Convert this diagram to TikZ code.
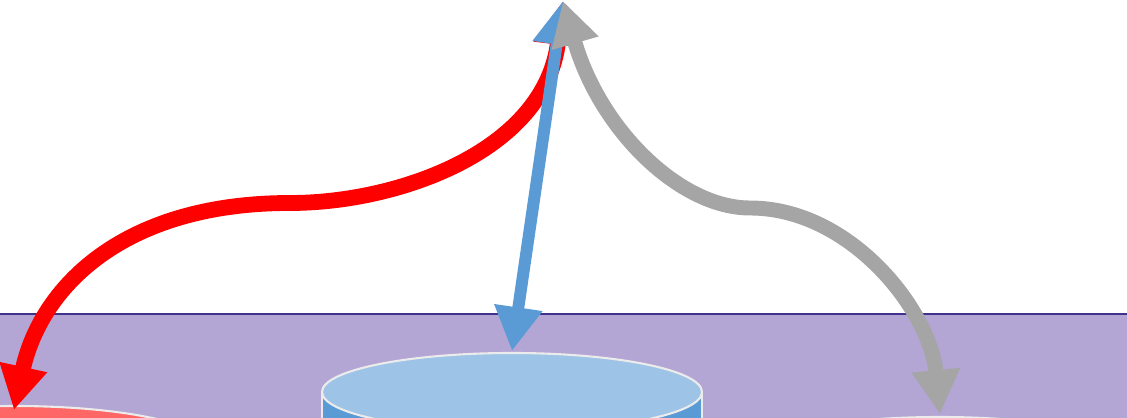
\documentclass[tikz,border=0pt]{standalone}
\usetikzlibrary{arrows.meta}

\definecolor{bandfill}{RGB}{179,166,212}
\definecolor{bandline}{RGB}{64,50,140}
\definecolor{dbblue}{RGB}{91,155,213}
\definecolor{dbtop}{RGB}{157,195,230}
\definecolor{dbred}{RGB}{255,102,102}
\definecolor{linkgray}{RGB}{165,165,165}

\tikzset{
  link/.style={line width=8.5pt, {Triangle[width=26pt,length=25pt]}-{Triangle[width=26pt,length=25pt]}},
  dbrim/.style={draw=white!92!black, line width=1.2pt}
}

\begin{document}
\begin{tikzpicture}[x=0.02cm, y=-0.02cm]
\useasboundingbox (0,0) rectangle (1127,418);
\clip (0,0) rectangle (1127,418);
% band
\fill[bandfill] (0,314) rectangle (1127,430);
\draw[bandline, line width=1.2pt] (0,314) -- (1127,314);
% stores
\fill[dbblue] (322,392) rectangle (702,440);
\draw[dbrim, fill=dbtop] (512,392) ellipse [x radius=190, y radius=39];
\draw[dbrim] (322,392) -- (322,440) (702,392) -- (702,440);
\draw[dbrim, fill=dbred] (15,445) ellipse [x radius=190, y radius=39];
\draw[dbrim, fill=white!94!bandfill] (940,456) ellipse [x radius=190, y radius=39];
% ends
\coordinate (apex) at (563,1);
\coordinate (redend) at (14,410);
\coordinate (blueend) at (512,351);
\coordinate (grayend) at (940,414);
% links
\draw[link, red, line width=9pt] (apex) .. controls (545,150) and (400,203) .. (290,203)
  .. controls (120,203) and (40,290) .. (redend);
\draw[link, dbblue, line width=6.8pt] (apex) -- (blueend);
\draw[link, linkgray] (apex) .. controls (600,130) and (680,208) .. (750,208)
  .. controls (850,208) and (930,310) .. (grayend);
\end{tikzpicture}
\end{document}
